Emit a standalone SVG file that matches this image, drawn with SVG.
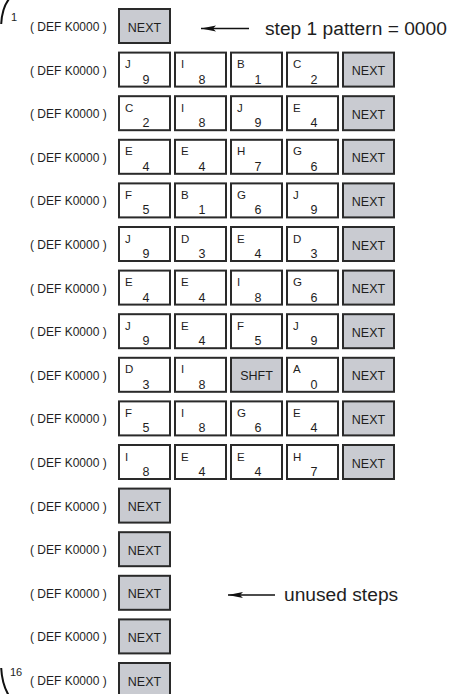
<svg xmlns="http://www.w3.org/2000/svg" xmlns:xlink="http://www.w3.org/1999/xlink" width="461" height="694" viewBox="0 0 461 694">
<style>
text{font-family:"Liberation Sans",Arial,sans-serif;fill:#1e1e1e}
.k{fill:#fff;stroke:#2a2a2a;stroke-width:2}
.g{fill:#c9cbd1;stroke:#2a2a2a;stroke-width:2}
.l{font-size:11.5px}
.d{font-size:12.5px;text-anchor:middle}
.n{font-size:12.5px;text-anchor:middle}
.def{font-size:12px}
.big{font-size:19.2px}
.num{font-size:11px}
.arr{stroke:#111;stroke-width:1.4;fill:none;marker-end:url(#ah)}
.br{stroke:#111;stroke-width:2;fill:none}
</style>
<defs>
<marker id="ah" markerUnits="userSpaceOnUse" markerWidth="16" markerHeight="8" refX="15" refY="3.5" orient="auto">
<path d="M0,0.5 L15,3.5 L0,6.5 L3,3.5 z" fill="#111"/>
</marker>
<rect id="key" class="k" x="1" y="1" width="51" height="34"/>
<rect id="gkey" class="g" x="1" y="1" width="51" height="34"/>
</defs>

<g id="bracket">
<path class="br" d="M9,-1 Q2,8 1.2,24"/>
<path class="br" d="M1.2,668 Q2,684 8.5,695"/>
<text class="num" x="11" y="21">1</text>
<text class="num" x="10" y="676">16</text>
</g>

<g id="labels">
<text class="def" x="30" y="31">( DEF K0000 )</text>
<text class="def" x="30" y="74.6">( DEF K0000 )</text>
<text class="def" x="30" y="118.2">( DEF K0000 )</text>
<text class="def" x="30" y="161.8">( DEF K0000 )</text>
<text class="def" x="30" y="205.4">( DEF K0000 )</text>
<text class="def" x="30" y="249">( DEF K0000 )</text>
<text class="def" x="30" y="292.6">( DEF K0000 )</text>
<text class="def" x="30" y="336.2">( DEF K0000 )</text>
<text class="def" x="30" y="379.8">( DEF K0000 )</text>
<text class="def" x="30" y="423.4">( DEF K0000 )</text>
<text class="def" x="30" y="467">( DEF K0000 )</text>
<text class="def" x="30" y="510.6">( DEF K0000 )</text>
<text class="def" x="30" y="554.2">( DEF K0000 )</text>
<text class="def" x="30" y="597.8">( DEF K0000 )</text>
<text class="def" x="30" y="641.4">( DEF K0000 )</text>
<text class="def" x="30" y="685">( DEF K0000 )</text>
<text class="big" x="265" y="35">step 1 pattern = 0000</text>
<text class="big" x="284" y="601">unused steps</text>
</g>

<g id="r1c1" transform="translate(118,8)"><use xlink:href="#gkey"/><text class="n" x="26.5" y="23.5">NEXT</text></g>

<g id="r2c1" transform="translate(118,51.6)"><use xlink:href="#key"/><text class="l" x="7" y="16.5">J</text><text class="d" x="28" y="32">9</text></g>
<g id="r2c2" transform="translate(174,51.6)"><use xlink:href="#key"/><text class="l" x="7" y="16.5">I</text><text class="d" x="28" y="32">8</text></g>
<g id="r2c3" transform="translate(230,51.6)"><use xlink:href="#key"/><text class="l" x="7" y="16.5">B</text><text class="d" x="28" y="32">1</text></g>
<g id="r2c4" transform="translate(286,51.6)"><use xlink:href="#key"/><text class="l" x="7" y="16.5">C</text><text class="d" x="28" y="32">2</text></g>
<g id="r2c5" transform="translate(342,51.6)"><use xlink:href="#gkey"/><text class="n" x="26.5" y="23.5">NEXT</text></g>

<g id="r3c1" transform="translate(118,95.2)"><use xlink:href="#key"/><text class="l" x="7" y="16.5">C</text><text class="d" x="28" y="32">2</text></g>
<g id="r3c2" transform="translate(174,95.2)"><use xlink:href="#key"/><text class="l" x="7" y="16.5">I</text><text class="d" x="28" y="32">8</text></g>
<g id="r3c3" transform="translate(230,95.2)"><use xlink:href="#key"/><text class="l" x="7" y="16.5">J</text><text class="d" x="28" y="32">9</text></g>
<g id="r3c4" transform="translate(286,95.2)"><use xlink:href="#key"/><text class="l" x="7" y="16.5">E</text><text class="d" x="28" y="32">4</text></g>
<g id="r3c5" transform="translate(342,95.2)"><use xlink:href="#gkey"/><text class="n" x="26.5" y="23.5">NEXT</text></g>

<g id="r4c1" transform="translate(118,138.8)"><use xlink:href="#key"/><text class="l" x="7" y="16.5">E</text><text class="d" x="28" y="32">4</text></g>
<g id="r4c2" transform="translate(174,138.8)"><use xlink:href="#key"/><text class="l" x="7" y="16.5">E</text><text class="d" x="28" y="32">4</text></g>
<g id="r4c3" transform="translate(230,138.8)"><use xlink:href="#key"/><text class="l" x="7" y="16.5">H</text><text class="d" x="28" y="32">7</text></g>
<g id="r4c4" transform="translate(286,138.8)"><use xlink:href="#key"/><text class="l" x="7" y="16.5">G</text><text class="d" x="28" y="32">6</text></g>
<g id="r4c5" transform="translate(342,138.8)"><use xlink:href="#gkey"/><text class="n" x="26.5" y="23.5">NEXT</text></g>

<g id="r5c1" transform="translate(118,182.4)"><use xlink:href="#key"/><text class="l" x="7" y="16.5">F</text><text class="d" x="28" y="32">5</text></g>
<g id="r5c2" transform="translate(174,182.4)"><use xlink:href="#key"/><text class="l" x="7" y="16.5">B</text><text class="d" x="28" y="32">1</text></g>
<g id="r5c3" transform="translate(230,182.4)"><use xlink:href="#key"/><text class="l" x="7" y="16.5">G</text><text class="d" x="28" y="32">6</text></g>
<g id="r5c4" transform="translate(286,182.4)"><use xlink:href="#key"/><text class="l" x="7" y="16.5">J</text><text class="d" x="28" y="32">9</text></g>
<g id="r5c5" transform="translate(342,182.4)"><use xlink:href="#gkey"/><text class="n" x="26.5" y="23.5">NEXT</text></g>

<g id="r6c1" transform="translate(118,226)"><use xlink:href="#key"/><text class="l" x="7" y="16.5">J</text><text class="d" x="28" y="32">9</text></g>
<g id="r6c2" transform="translate(174,226)"><use xlink:href="#key"/><text class="l" x="7" y="16.5">D</text><text class="d" x="28" y="32">3</text></g>
<g id="r6c3" transform="translate(230,226)"><use xlink:href="#key"/><text class="l" x="7" y="16.5">E</text><text class="d" x="28" y="32">4</text></g>
<g id="r6c4" transform="translate(286,226)"><use xlink:href="#key"/><text class="l" x="7" y="16.5">D</text><text class="d" x="28" y="32">3</text></g>
<g id="r6c5" transform="translate(342,226)"><use xlink:href="#gkey"/><text class="n" x="26.5" y="23.5">NEXT</text></g>

<g id="r7c1" transform="translate(118,269.6)"><use xlink:href="#key"/><text class="l" x="7" y="16.5">E</text><text class="d" x="28" y="32">4</text></g>
<g id="r7c2" transform="translate(174,269.6)"><use xlink:href="#key"/><text class="l" x="7" y="16.5">E</text><text class="d" x="28" y="32">4</text></g>
<g id="r7c3" transform="translate(230,269.6)"><use xlink:href="#key"/><text class="l" x="7" y="16.5">I</text><text class="d" x="28" y="32">8</text></g>
<g id="r7c4" transform="translate(286,269.6)"><use xlink:href="#key"/><text class="l" x="7" y="16.5">G</text><text class="d" x="28" y="32">6</text></g>
<g id="r7c5" transform="translate(342,269.6)"><use xlink:href="#gkey"/><text class="n" x="26.5" y="23.5">NEXT</text></g>

<g id="r8c1" transform="translate(118,313.2)"><use xlink:href="#key"/><text class="l" x="7" y="16.5">J</text><text class="d" x="28" y="32">9</text></g>
<g id="r8c2" transform="translate(174,313.2)"><use xlink:href="#key"/><text class="l" x="7" y="16.5">E</text><text class="d" x="28" y="32">4</text></g>
<g id="r8c3" transform="translate(230,313.2)"><use xlink:href="#key"/><text class="l" x="7" y="16.5">F</text><text class="d" x="28" y="32">5</text></g>
<g id="r8c4" transform="translate(286,313.2)"><use xlink:href="#key"/><text class="l" x="7" y="16.5">J</text><text class="d" x="28" y="32">9</text></g>
<g id="r8c5" transform="translate(342,313.2)"><use xlink:href="#gkey"/><text class="n" x="26.5" y="23.5">NEXT</text></g>

<g id="r9c1" transform="translate(118,356.8)"><use xlink:href="#key"/><text class="l" x="7" y="16.5">D</text><text class="d" x="28" y="32">3</text></g>
<g id="r9c2" transform="translate(174,356.8)"><use xlink:href="#key"/><text class="l" x="7" y="16.5">I</text><text class="d" x="28" y="32">8</text></g>
<g id="r9c3" transform="translate(230,356.8)"><use xlink:href="#gkey"/><text class="n" x="26.5" y="23.5">SHFT</text></g>
<g id="r9c4" transform="translate(286,356.8)"><use xlink:href="#key"/><text class="l" x="7" y="16.5">A</text><text class="d" x="28" y="32">0</text></g>
<g id="r9c5" transform="translate(342,356.8)"><use xlink:href="#gkey"/><text class="n" x="26.5" y="23.5">NEXT</text></g>

<g id="r10c1" transform="translate(118,400.4)"><use xlink:href="#key"/><text class="l" x="7" y="16.5">F</text><text class="d" x="28" y="32">5</text></g>
<g id="r10c2" transform="translate(174,400.4)"><use xlink:href="#key"/><text class="l" x="7" y="16.5">I</text><text class="d" x="28" y="32">8</text></g>
<g id="r10c3" transform="translate(230,400.4)"><use xlink:href="#key"/><text class="l" x="7" y="16.5">G</text><text class="d" x="28" y="32">6</text></g>
<g id="r10c4" transform="translate(286,400.4)"><use xlink:href="#key"/><text class="l" x="7" y="16.5">E</text><text class="d" x="28" y="32">4</text></g>
<g id="r10c5" transform="translate(342,400.4)"><use xlink:href="#gkey"/><text class="n" x="26.5" y="23.5">NEXT</text></g>

<g id="r11c1" transform="translate(118,444)"><use xlink:href="#key"/><text class="l" x="7" y="16.5">I</text><text class="d" x="28" y="32">8</text></g>
<g id="r11c2" transform="translate(174,444)"><use xlink:href="#key"/><text class="l" x="7" y="16.5">E</text><text class="d" x="28" y="32">4</text></g>
<g id="r11c3" transform="translate(230,444)"><use xlink:href="#key"/><text class="l" x="7" y="16.5">E</text><text class="d" x="28" y="32">4</text></g>
<g id="r11c4" transform="translate(286,444)"><use xlink:href="#key"/><text class="l" x="7" y="16.5">H</text><text class="d" x="28" y="32">7</text></g>
<g id="r11c5" transform="translate(342,444)"><use xlink:href="#gkey"/><text class="n" x="26.5" y="23.5">NEXT</text></g>

<g id="r12c1" transform="translate(118,487.6)"><use xlink:href="#gkey"/><text class="n" x="26.5" y="23.5">NEXT</text></g>
<g id="r13c1" transform="translate(118,531.2)"><use xlink:href="#gkey"/><text class="n" x="26.5" y="23.5">NEXT</text></g>
<g id="r14c1" transform="translate(118,574.8)"><use xlink:href="#gkey"/><text class="n" x="26.5" y="23.5">NEXT</text></g>
<g id="r15c1" transform="translate(118,618.4)"><use xlink:href="#gkey"/><text class="n" x="26.5" y="23.5">NEXT</text></g>
<g id="r16c1" transform="translate(118,662)"><use xlink:href="#gkey"/><text class="n" x="26.5" y="23.5">NEXT</text></g>

<g id="connectors">
<path class="arr" d="M249,28.5 L201,28.5"/>
<path class="arr" d="M275,595 L228,595"/>
</g>
</svg>
